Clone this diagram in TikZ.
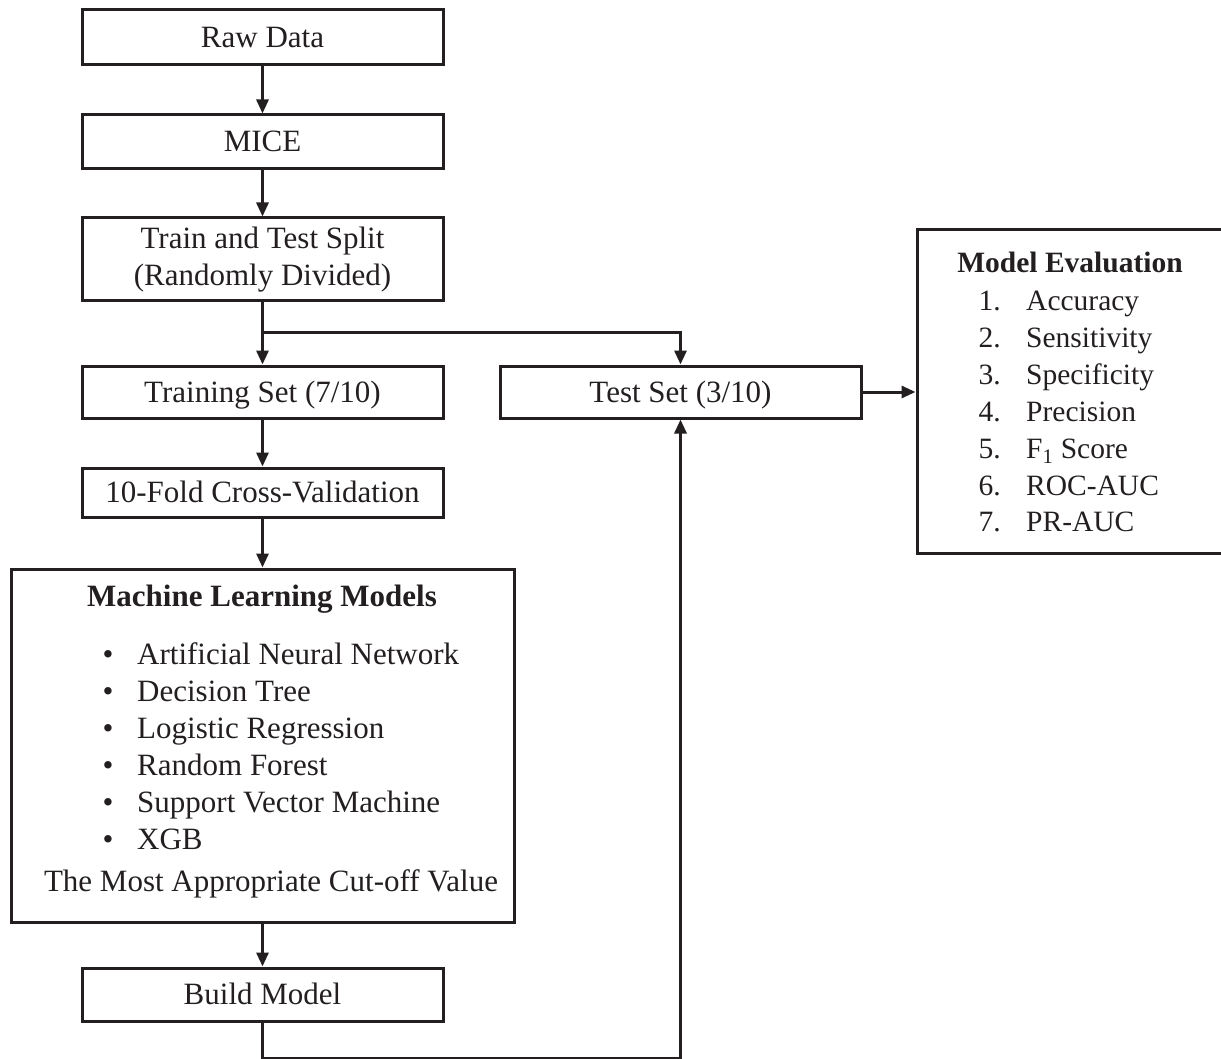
\documentclass[tikz,border=0pt]{standalone}
\usepackage{fontspec}
\setmainfont{Liberation Serif}
\usetikzlibrary{arrows.meta}
\definecolor{ink}{RGB}{35,31,32}
\begin{document}
\begin{tikzpicture}[x=1pt,y=-1pt,
  font=\fontsize{31}{37}\selectfont,
  box/.style={draw=ink, line width=3pt, minimum width=361pt, inner sep=0pt, text=ink, align=center},
  onel/.style={text height=22pt, text depth=2pt},
  txt/.style={inner sep=0pt, text=ink},
  evf/.style={font=\fontsize{29.5}{37}\selectfont},
  arr/.style={draw=ink, line width=3pt, -{Triangle[length=14pt,width=12pt]}},
  ln/.style={draw=ink, line width=3pt}]
\useasboundingbox (0,0) rectangle (1221,1059);

\node[box,onel,minimum height=55pt] (raw) at (262.5,37.5) {Raw Data};
\node[box,onel,minimum height=54pt] (mice) at (262.5,142) {MICE};
\node[box,minimum height=83pt] (split) at (262.5,259.5) {Train and Test Split\\(Randomly Divided)};
\node[box,onel,minimum height=52pt] (train) at (262.5,392) {Training Set (7/10)};
\node[box,onel,minimum height=52pt] (test) at (680.5,392) {Test Set (3/10)};
\node[box,onel,minimum height=49pt] (cv) at (262.5,492.5) {10-Fold Cross-Validation};
\node[box,minimum width=503pt,minimum height=353pt] (ml) at (262.5,745.5) {};
\node[box,onel,minimum height=53pt] (build) at (262.5,994.5) {Build Model};
\node[box,minimum width=308pt,minimum height=323pt] (eval) at (1071,391.5) {};

% ML content
\node[txt,anchor=base] (mlt) at (262,606) {\bfseries Machine Learning Models};
\foreach \i/\t in {1/Artificial Neural Network,2/Decision Tree,3/Logistic Regression,4/Random Forest,5/Support Vector Machine,6/XGB}{
  \node[txt,anchor=base] (mlb\i) at (108,{654+(\i-1)*37+10}) {\textbullet};
  \node[txt,anchor=base west] (mli\i) at (137,{654+(\i-1)*37+10}) {\t};
}
\node[txt,anchor=base] (cut) at (271,891) {The Most Appropriate Cut-off Value};

% Evaluation content
\node[txt,evf,anchor=base] (evt) at (1070,273) {\bfseries Model Evaluation};
\foreach \i/\t in {1/Accuracy,2/Sensitivity,3/Specificity,4/Precision,5/F\textsubscript{1} Score,6/ROC-AUC,7/PR-AUC}{
  \node[txt,evf,anchor=base east] (evn\i) at (1001,{301+(\i-1)*36.8+10}) {\i.};
  \node[txt,evf,anchor=base west] (evi\i) at (1026,{301+(\i-1)*36.8+10}) {\t};
}

% connectors
\draw[arr] (raw) -- (mice);
\draw[arr] (mice) -- (split);
\coordinate (j) at (262.5,333);
\draw[ln] (split.south) -- (j);
\draw[arr] (j) -- (train);
\draw[arr] (j) -| (test.north);
\draw[arr] (train) -- (cv);
\draw[arr] (cv) -- (ml);
\draw[arr] (ml) -- (build);
\draw[arr] (test.east) -- (eval.west |- test.east);
\coordinate (b1) at (262.5,1058);
\coordinate (b2) at (680.5,1058);
\draw[arr] (build.south) -- (b1) -- (b2) -- (test.south);
\end{tikzpicture}
\end{document}
